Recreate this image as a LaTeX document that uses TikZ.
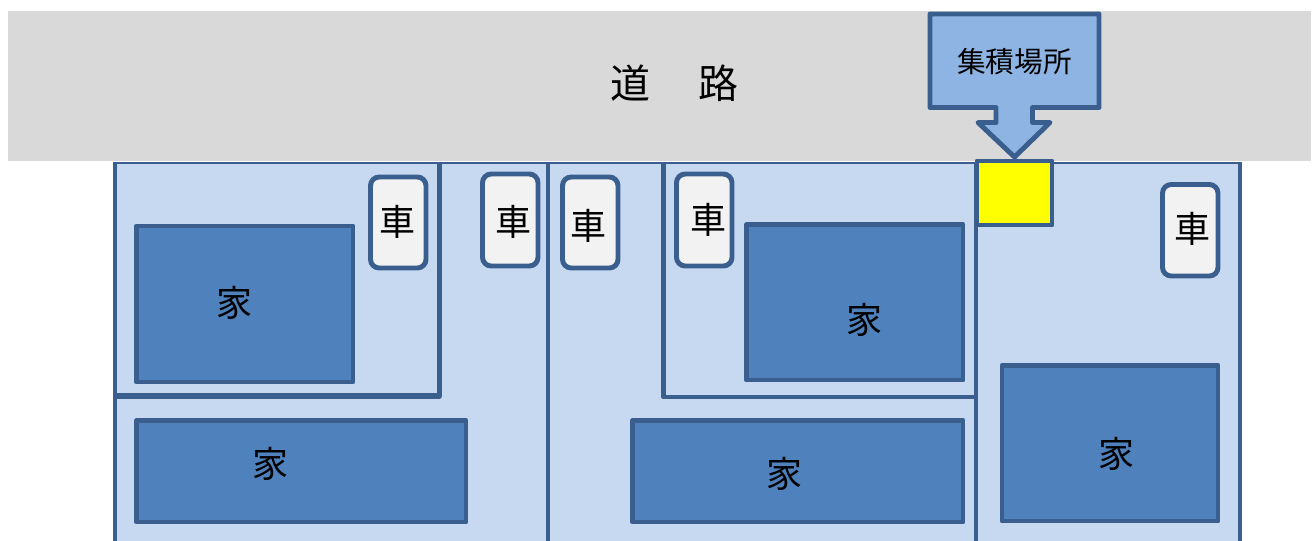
\documentclass[tikz,border=0pt]{standalone}
\usepackage{fontspec}
\setmainfont{Noto Sans CJK JP}[Scale=1]
\definecolor{edge}{HTML}{3A5F8E}
\definecolor{lotfill}{HTML}{C6D9F1}
\definecolor{roadfill}{HTML}{D9D9D9}
\definecolor{housefill}{HTML}{4F81BD}
\definecolor{carfill}{HTML}{F2F2F2}
\definecolor{tagfill}{HTML}{8EB4E3}
\definecolor{spotfill}{HTML}{FFFF00}
\tikzset{
  px/.style={x=0.75pt,y=-0.75pt},
  plotline/.style={draw=edge,line width=3.4pt,line join=round},
  house/.style={draw=edge,fill=housefill,line width=3.7pt,line join=round,rectangle,inner sep=0pt,outer sep=0pt},
  car/.style={draw=edge,fill=carfill,line width=3.7pt,rectangle,rounded corners=6.5pt,inner sep=0pt,outer sep=0pt},
  spot/.style={draw=edge,fill=spotfill,line width=3.7pt,line join=round,rectangle,inner sep=0pt,outer sep=0pt},
  bigtxt/.style={font=\fontsize{27}{27}\selectfont,inner sep=0pt,text=black},
  roadtxt/.style={font=\fontsize{30}{30}\selectfont,inner sep=0pt,text=black},
  tagtxt/.style={font=\fontsize{21.5}{22}\selectfont,inner sep=0pt,text=black},
}
% name, x1, y1, x2, y2 (centre line of the border), style
\newcommand{\pxbox}[6]{\node[#6,minimum width={(#4-#2)*0.75pt},minimum height={(#5-#3)*0.75pt}] (#1) at ({(#2+#4)/2},{(#3+#5)/2}) {};}
\begin{document}
\begin{tikzpicture}[px]
\useasboundingbox (0,0) rectangle (1312,540);
\clip (0,0) rectangle (1312,540);
\fill[white] (0,0) rectangle (1312,540);
% road
\fill[roadfill] (8,11) rectangle (1311,161);
\node[roadtxt] (road) at (674,83) {道\hspace{36pt}路};
% lots
\fill[lotfill] (114,162) rectangle (1240,545);
\draw[draw=edge,line width=2pt] (113,163) -- (1241,163);
\draw[plotline] (115,162) -- (115,555);
\draw[plotline] (1240,162) -- (1240,555);
\coordinate (a1) at (439.5,163); \coordinate (a2) at (439.5,396); \coordinate (a3) at (113,396);
\draw[plotline,line width=4.2pt] (a1) -- (a2) -- (a3);
\coordinate (b1) at (548,163); \coordinate (b2) at (548,555);
\draw[plotline] (b1) -- (b2);
\coordinate (c1) at (663.5,163); \coordinate (c2) at (663.5,397); \coordinate (c3) at (975,397);
\draw[plotline] (c1) -- (c2) -- (c3);
\coordinate (d1) at (976,163); \coordinate (d2) at (976,555);
\draw[plotline] (d1) -- (d2);
% houses
\pxbox{h1}{136.5}{226}{353}{382}{house}
\pxbox{h2}{136.5}{420.5}{466}{522}{house}
\pxbox{h3}{746.5}{224.5}{963}{380}{house}
\pxbox{h4}{632.5}{420.5}{963}{522}{house}
\pxbox{h5}{1002}{365.5}{1218}{521}{house}
\node[bigtxt] (th1) at (234.5,303) {家};
\node[bigtxt] (th2) at (270.5,464) {家};
\node[bigtxt] (th3) at (864.5,320) {家};
\node[bigtxt] (th4) at (784.5,474) {家};
\node[bigtxt] (th5) at (1116.5,454) {家};
% cars
\pxbox{c1b}{370.5}{177}{426}{268}{car}
\pxbox{c2b}{482.5}{174}{538}{266}{car}
\pxbox{c3b}{562.5}{177}{618}{268}{car}
\pxbox{c4b}{676.5}{174}{732}{266}{car}
\pxbox{c5b}{1162.5}{184.5}{1218}{276}{car}
\node[bigtxt] (tc1) at (397.5,222) {車};
\node[bigtxt] (tc2) at (513,222) {車};
\node[bigtxt] (tc3) at (588,226) {車};
\node[bigtxt] (tc4) at (708,220) {車};
\node[bigtxt] (tc5) at (1192,229) {車};
% collection spot and its callout
\pxbox{spot}{977}{161}{1052}{225}{spot}
\draw[draw=edge,fill=tagfill,line width=3.7pt,line join=round]
  (930,14) -- (1099,14) -- (1099,107.5) -- (1032.5,107.5) -- (1032.5,122.5) -- (1050,122.5)
  -- (1014.5,157) -- (978,122.5) -- (996,122.5) -- (996,107.5) -- (930,107.5) -- cycle;
\node[tagtxt] (tag) at (1014.5,62) {集積場所};
\end{tikzpicture}
\end{document}
